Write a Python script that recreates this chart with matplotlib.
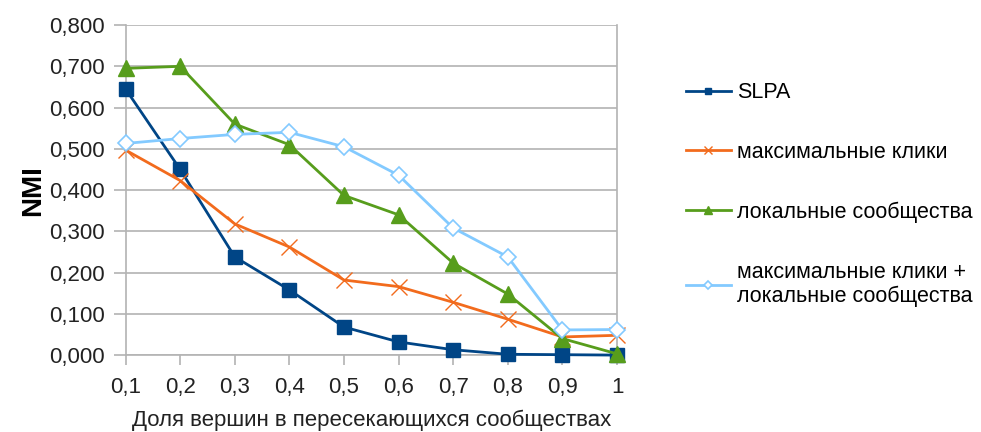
import matplotlib
matplotlib.use("Agg")
import matplotlib.pyplot as plt
import numpy as np

plt.rcParams['font.family'] = ['Liberation Sans', 'DejaVu Sans']

shares = [0.1, 0.2, 0.3, 0.4, 0.5, 0.6, 0.7, 0.8, 0.9, 1]
share_labels = ['0,1', '0,2', '0,3', '0,4', '0,5', '0,6', '0,7', '0,8', '0,9', '1']

slpa = [0.645, 0.450, 0.238, 0.158, 0.068, 0.032, 0.013, 0.002, 0.001, 0.000]
max_cliques = [0.497, 0.423, 0.318, 0.262, 0.182, 0.166, 0.128, 0.087, 0.044, 0.048]
local_comm = [0.695, 0.700, 0.560, 0.510, 0.387, 0.340, 0.223, 0.148, 0.040, 0.003]
cliques_local = [0.513, 0.525, 0.535, 0.540, 0.505, 0.436, 0.308, 0.238, 0.061, 0.062]

names = ['SLPA', 'максимальные клики', 'локальные сообщества',
         'максимальные клики +\nлокальные сообщества']

fig = plt.figure(figsize=(9.81, 4.32), dpi=100)
ax = fig.add_axes([0.128, 0.178, 0.501, 0.764])

x = np.arange(len(shares))
ax.plot(x, slpa, color='#004586', lw=2, marker='s', ms=10, label=names[0],
        clip_on=False, zorder=3)
ax.plot(x, max_cliques, color='#f26b1d', lw=2, marker='x', ms=11, mew=1,
        label=names[1], clip_on=False, zorder=3)
ax.plot(x, local_comm, color='#579d1c', lw=2, marker='^', ms=11,
        label=names[2], clip_on=False, zorder=3)
ax.plot(x, cliques_local, color='#83caff', lw=2, marker='D', ms=8,
        mfc='white', mew=1.2, label=names[3], clip_on=False, zorder=3)

ax.set_xlim(0, len(shares) - 1)
ax.set_ylim(0, 0.8)
ax.set_xticks(x)
ax.set_xticklabels(share_labels)
yt = np.arange(0, 0.81, 0.1)
ax.set_yticks(yt)
ax.set_yticklabels([('%.3f' % v).replace('.', ',') for v in yt])
ax.tick_params(axis='both', labelsize=16, colors='#b3b3b3', labelcolor='#222222')
ax.tick_params(axis='y', length=9, width=1.2, pad=6)
ax.tick_params(axis='x', length=7, width=1.2, pad=9)
ax.grid(axis='y', color='#b3b3b3', lw=1.2)
ax.set_axisbelow(True)
ax.spines['top'].set_visible(False)
for side in ['left', 'right', 'bottom']:
    ax.spines[side].set_color('#b3b3b3')
    ax.spines[side].set_linewidth(1.2)

ax.set_ylabel('NMI', fontsize=20, fontweight='bold', labelpad=2)
ax.set_xlabel('Доля вершин в пересекающихся сообществах', fontsize=16,
              labelpad=8, color='#222222')

fig.legend(loc='upper left', bbox_to_anchor=(0.699, 0.810), frameon=False,
           fontsize=15.5, handlelength=2.1, handletextpad=0.27,
           labelspacing=1.8, borderaxespad=0, borderpad=0, markerscale=0.5)

fig.savefig('out.png', dpi=100)
